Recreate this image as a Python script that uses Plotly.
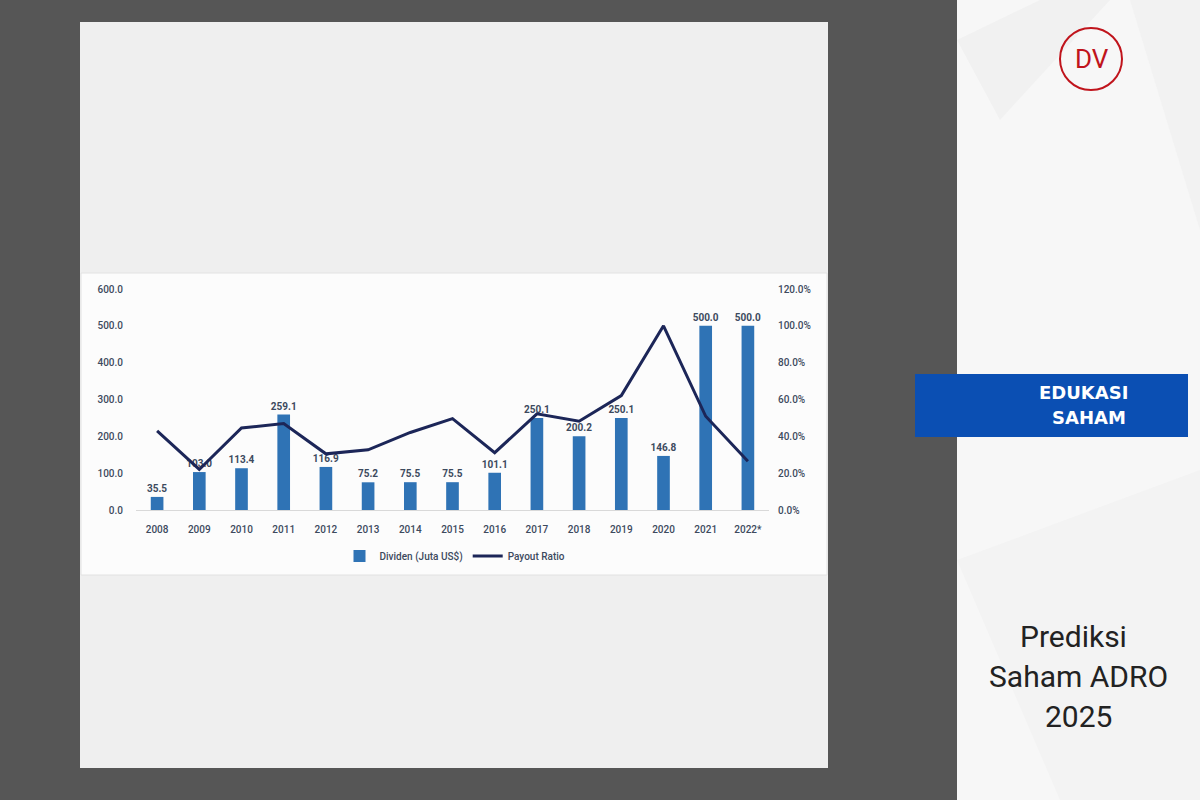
import plotly.graph_objects as go

years = ["2008", "2009", "2010", "2011", "2012", "2013", "2014", "2015",
         "2016", "2017", "2018", "2019", "2020", "2021", "2022*"]
dividen = [35.5, 103.0, 113.4, 259.1, 116.9, 75.2, 75.5, 75.5,
           101.1, 250.1, 200.2, 250.1, 146.8, 500.0, 500.0]
payout = [0.43, 0.22, 0.445, 0.47, 0.305, 0.327, 0.421, 0.496,
          0.311, 0.522, 0.482, 0.621, 1.0, 0.509, 0.265]
left_ticks = [0, 100, 200, 300, 400, 500, 600]
right_ticks = [0, 0.2, 0.4, 0.6, 0.8, 1.0, 1.2]

W, H = 1200, 800
BAR = "#2f73b5"
LINE = "#1c2658"
TXT = "#3d4a5e"

fig = go.Figure()
fig.add_trace(go.Bar(
    x=years, y=dividen, name="Dividen (Juta US$)",
    marker=dict(color=BAR, line=dict(width=0)),
    text=[f"{v:.1f}" for v in dividen], textposition="outside",
    constraintext="none",
    textfont=dict(size=10, color=TXT, family="Roboto", weight="bold"),
    cliponaxis=False, yaxis="y"))
fig.add_trace(go.Scatter(
    x=years, y=payout, name="Payout Ratio", mode="lines",
    line=dict(color=LINE, width=3), yaxis="y2"))

def px(x):
    return x / W

def py(y):
    return 1 - y / H

shapes = [
    # right light panel
    dict(type="rect", xref="paper", yref="paper", x0=px(957), x1=1, y0=0, y1=1,
         fillcolor="#f7f7f7", line=dict(width=0), layer="below"),
    # faint geometric facets in the right panel
    dict(type="path", xref="paper", yref="paper",
         path=f"M {px(957)},{py(40)} L {px(1040)},{py(0)} L {px(1110)},{py(0)} L {px(1000)},{py(120)} Z",
         fillcolor="#f1f1f1", line=dict(width=0), layer="below"),
    dict(type="path", xref="paper", yref="paper",
         path=f"M {px(1130)},{py(0)} L {px(1200)},{py(0)} L {px(1200)},{py(230)} Z",
         fillcolor="#f2f2f2", line=dict(width=0), layer="below"),
    dict(type="path", xref="paper", yref="paper",
         path=f"M {px(957)},{py(560)} L {px(1200)},{py(470)} L {px(1200)},{py(800)} L {px(1060)},{py(800)} Z",
         fillcolor="#f3f3f3", line=dict(width=0), layer="below"),
    # light card
    dict(type="rect", xref="paper", yref="paper", x0=px(80), x1=px(828), y0=py(768), y1=py(22),
         fillcolor="#efefef", line=dict(width=0), layer="below"),
    # chart strip
    dict(type="rect", xref="paper", yref="paper", x0=px(81), x1=px(827), y0=py(575), y1=py(273),
         fillcolor="#fcfcfc", line=dict(width=1, color="#e2e2e2"), layer="below"),
    # blue banner
    dict(type="rect", xref="paper", yref="paper", x0=px(915), x1=px(1188), y0=py(437), y1=py(374),
         fillcolor="#0b4fb3", line=dict(width=0)),
    # logo circle
    dict(type="circle", xref="paper", yref="paper", x0=px(1060), x1=px(1122), y0=py(90), y1=py(28),
         fillcolor="rgba(0,0,0,0)", line=dict(width=2, color="#c0141c")),
]

def note(text, x, y, size, color, family):
    return dict(text=text, x=px(x), y=py(y), xref="paper", yref="paper",
                xanchor="center", yanchor="middle", showarrow=False,
                font=dict(size=size, color=color, family=family))

annotations = [
    note("<b>EDUKASI</b>", 1083, 392, 18, "white", "DejaVu Sans"),
    note("<b>SAHAM</b>", 1089, 417, 18, "white", "DejaVu Sans"),
    note("DV", 1092, 59, 26, "#c0141c", "Roboto"),
    note("Prediksi", 1073, 636, 30, "#222222", "Roboto"),
    note("Saham ADRO", 1078, 676, 30, "#222222", "Roboto"),
    note("2025", 1078, 716, 30, "#222222", "Roboto"),
]

fig.update_layout(
    width=W, height=H,
    margin=dict(l=0, r=0, t=0, b=0, pad=0),
    paper_bgcolor="#565656", plot_bgcolor="rgba(0,0,0,0)",
    bargap=0.7, showlegend=True,
    font=dict(family="Roboto", color=TXT, size=10),
    xaxis=dict(domain=[px(136), px(769)], showgrid=False, showline=True,
               linecolor="#d9d9d9", linewidth=1, ticks="", automargin=False,
               ticklabelstandoff=10,
               tickfont=dict(size=10, color=TXT, weight=500), anchor="y"),
    yaxis=dict(domain=[py(510), py(289)], range=[0, 600], tickvals=left_ticks,
               tickformat=".1f", showgrid=False, zeroline=False, automargin=False,
               tickfont=dict(size=10, color=TXT, weight=500), ticklabelstandoff=12),
    yaxis2=dict(overlaying="y", side="right", range=[0, 1.2], tickvals=right_ticks,
                tickformat=".1%", showgrid=False, zeroline=False, automargin=False,
                ticklabelstandoff=8,
                tickfont=dict(size=10, color=TXT, weight=500), anchor="x"),
    legend=dict(orientation="h", x=px(455), xanchor="center", y=py(556), yanchor="middle",
                bgcolor="rgba(0,0,0,0)", font=dict(size=10, color=TXT, weight=500)),
    shapes=shapes, annotations=annotations,
)

fig.write_html("out.html", config={"displayModeBar": False},
               post_script="document.body.style.margin='0';document.body.style.overflow='hidden';")
